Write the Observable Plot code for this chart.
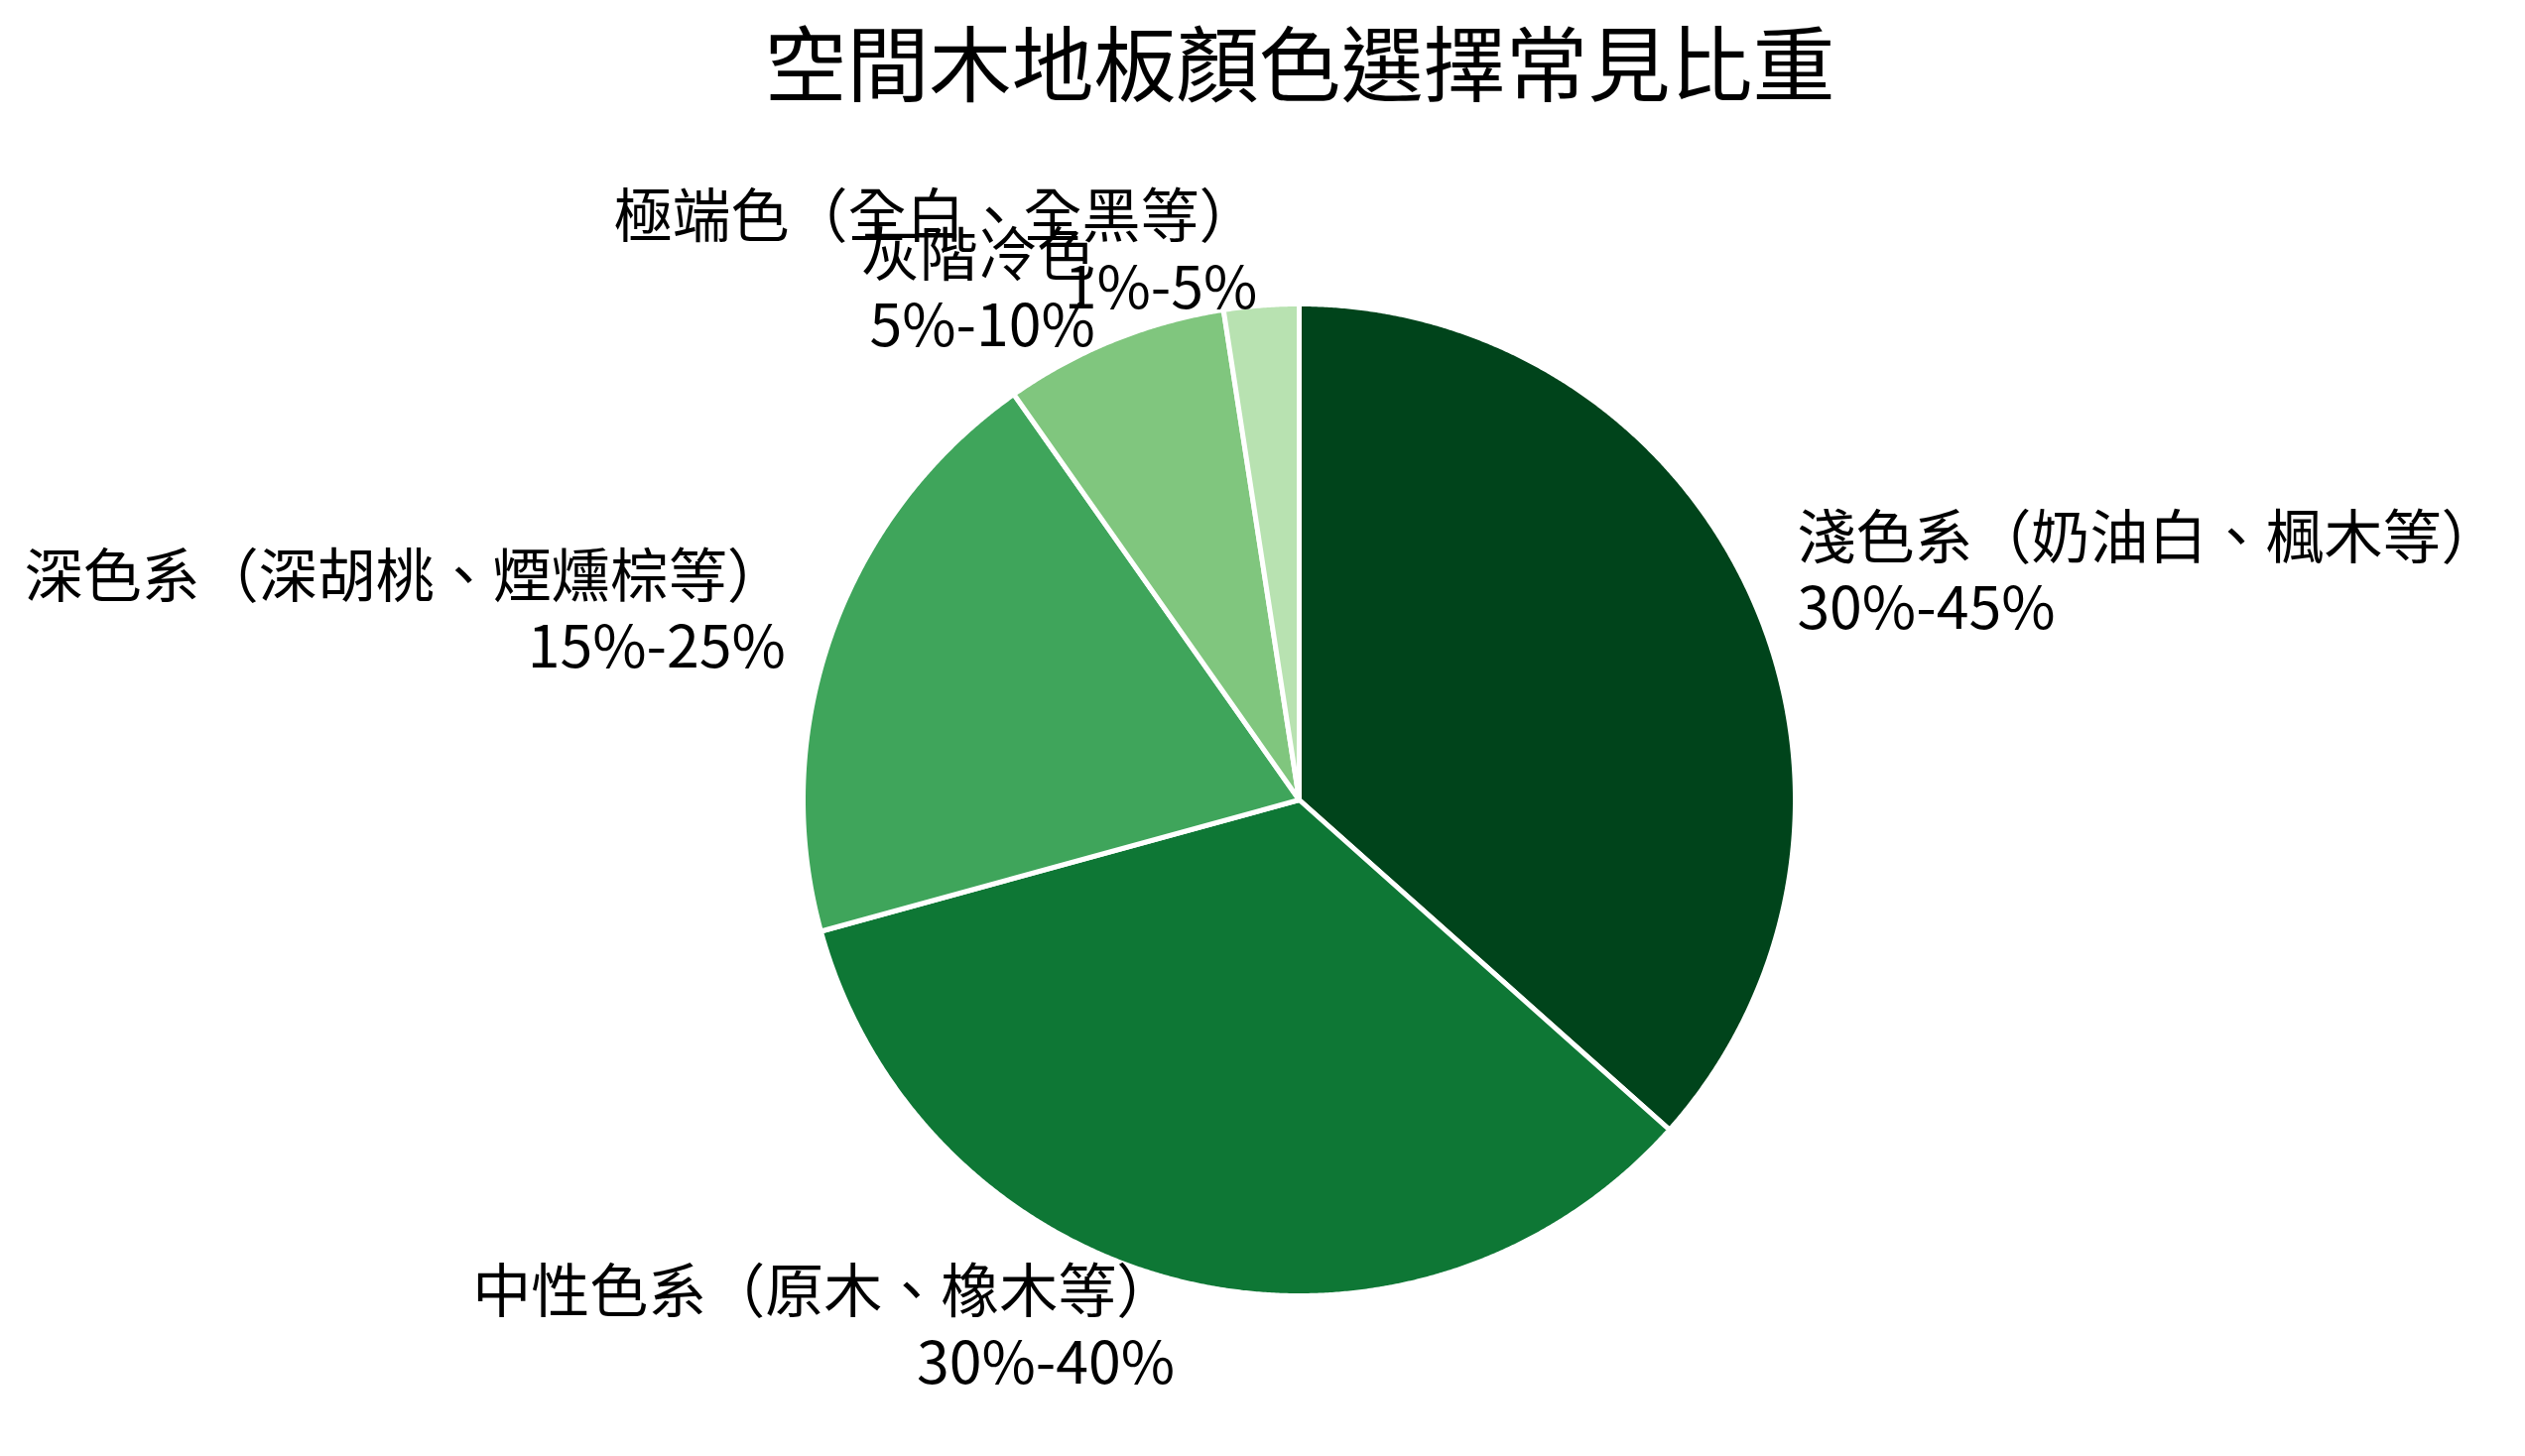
<!DOCTYPE html>
<html>
<head>
<meta charset="utf-8">
<script src="https://cdn.jsdelivr.net/npm/d3@7"></script>
<script src="https://cdn.jsdelivr.net/npm/@observablehq/plot@0.6"></script>
<style>
  html, body { margin: 0; padding: 0; background: #fff; }
  #titlewrap { position: relative; height: 140px; width: 2545px; }
  #title { position: absolute; left: 1310px; top: 0; transform: translateX(-50%); white-space: nowrap; line-height: 120px; font-family: "Noto Sans CJK TC", sans-serif; font-size: 83px; color: #000; }
</style>
</head>
<body>
<div id="titlewrap"><div id="title">空間木地板顏色選擇常見比重</div></div>
<div id="chart"></div>
<script>
const categories = ["淺色系（奶油白、楓木等）", "中性色系（原木、橡木等）", "深色系（深胡桃、煙燻棕等）", "灰階冷色", "極端色（全白、全黑等）"];
const ranges = ["30%-45%", "30%-40%", "15%-25%", "5%-10%", "1%-5%"];
const values = [37.5, 35, 20, 7.5, 2.5];
const colors = ["#00441b", "#0e7735", "#3fa55b", "#80c67e", "#b8e2b1"];

const W = 2545, H = 1328, CX = 1309, CY = 666, R = 500;

const arcs = d3.pie().sort(null).value(d => d.value)
  .startAngle(0).endAngle(2 * Math.PI)(categories.map((c, i) => ({category: c, value: values[i], range: ranges[i]})));

const pts = [];
const labels = [];
arcs.forEach(a => {
  const c = a.data.category;
  pts.push({category: c, x: 0, y: 0});
  const n = Math.max(2, Math.ceil((a.endAngle - a.startAngle) / (Math.PI / 720)));
  for (let k = 0; k <= n; k++) {
    const t = a.startAngle + (a.endAngle - a.startAngle) * k / n;
    pts.push({category: c, x: Math.sin(t), y: Math.cos(t)});
  }
  pts.push({category: c, x: 0, y: 0});
  const m = (a.startAngle + a.endAngle) / 2;
  labels.push({x: 1.1 * Math.sin(m), y: 1.1 * Math.cos(m), text: c + "\n" + a.data.range});
});

const textOpts = {x: "x", y: "y", text: "text", lineAnchor: "middle", lineHeight: 1.21, fontSize: 59, fill: "#000", dy: -6};

const chart = Plot.plot({
  width: W,
  height: H,
  margin: 0,
  style: {fontFamily: "'Noto Sans CJK TC', sans-serif", background: "#fff"},
  x: {domain: [-1, 1], range: [CX - R, CX + R], axis: null},
  y: {domain: [-1, 1], range: [CY + R, CY - R], axis: null},
  color: {domain: categories, range: colors},
  marks: [
    Plot.line(pts, {x: "x", y: "y", z: "category", fill: "category", stroke: "white", strokeWidth: 5, strokeLinejoin: "round", curve: "linear"}),
    Plot.text(labels.filter(d => d.x >= 0), {...textOpts, textAnchor: "start"}),
    Plot.text(labels.filter(d => d.x < 0), {...textOpts, textAnchor: "end"})
  ]
});
document.getElementById("chart").appendChild(chart);
</script>
</body>
</html>
